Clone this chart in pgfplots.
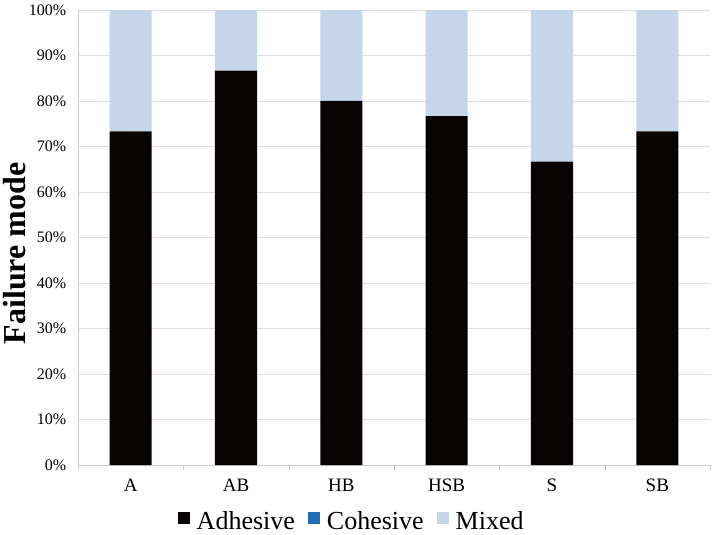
\documentclass[border=0pt]{standalone}
\usepackage{pgfplots}
\pgfplotsset{compat=1.18}
\usepackage{fontspec}
\setmainfont{Liberation Serif}
\definecolor{adh}{HTML}{080404}
\definecolor{coh}{HTML}{1F6DB5}
\definecolor{mix}{HTML}{C5D5EA}
\begin{document}
\begin{tikzpicture}
\path[use as bounding box] (-78pt,-70pt) rectangle (634pt,465pt);
\begin{axis}[
  at={(0,0)}, anchor=south west,
  scale only axis, width=632pt, height=455pt,
  ybar stacked, bar width=0.4,
  xmin=-0.5, xmax=5.5, ymin=0, ymax=100,
  xtick={0,1,2,3,4,5},
  xticklabels={A,AB,HB,HSB,S,SB},
  major x tick style={draw=none},
  minor xtick={-0.5,0.5,1.5,2.5,3.5,4.5,5.5},
  minor tick length=5pt,
  tick align=outside,
  minor x tick style={gray!40},
  ytick={0,10,...,100},
  yticklabels={0\%,10\%,20\%,30\%,40\%,50\%,60\%,70\%,80\%,90\%,100\%},
  major y tick style={draw=none},
  ymajorgrids, grid style={gray!25},
  axis lines*=left,
  axis line style={gray!40, -},
  yticklabel style={font=\fontsize{16}{18}\selectfont, xshift=-4pt},
  xticklabel style={font=\fontsize{19}{22}\selectfont, yshift=-6pt},
  ylabel={\textbf{Failure mode}},
  ylabel style={font=\fontsize{32}{36}\selectfont, at={(axis description cs:-0.101,0.465)}, anchor=center},
  legend columns=3,
  legend style={draw=none, at={(axis description cs:0.433,-0.093)}, anchor=north, font=\fontsize{26}{28}\selectfont,
    /tikz/every odd column/.append style={column sep=5pt},
    /tikz/every even column/.append style={column sep=11pt}},
  legend image code/.code={\fill[#1] (0pt,-3pt) rectangle (12pt,9pt);},
]
\addplot[fill=adh, draw=none] coordinates {(0,73.3) (1,86.7) (2,80) (3,76.7) (4,66.7) (5,73.3)};
\addplot[fill=coh, draw=none] coordinates {(0,0) (1,0) (2,0) (3,0) (4,0) (5,0)};
\addplot[fill=mix, draw=none] coordinates {(0,26.7) (1,13.3) (2,20) (3,23.3) (4,33.3) (5,26.7)};
\legend{Adhesive,Cohesive,Mixed}
\end{axis}
\end{tikzpicture}
\end{document}
